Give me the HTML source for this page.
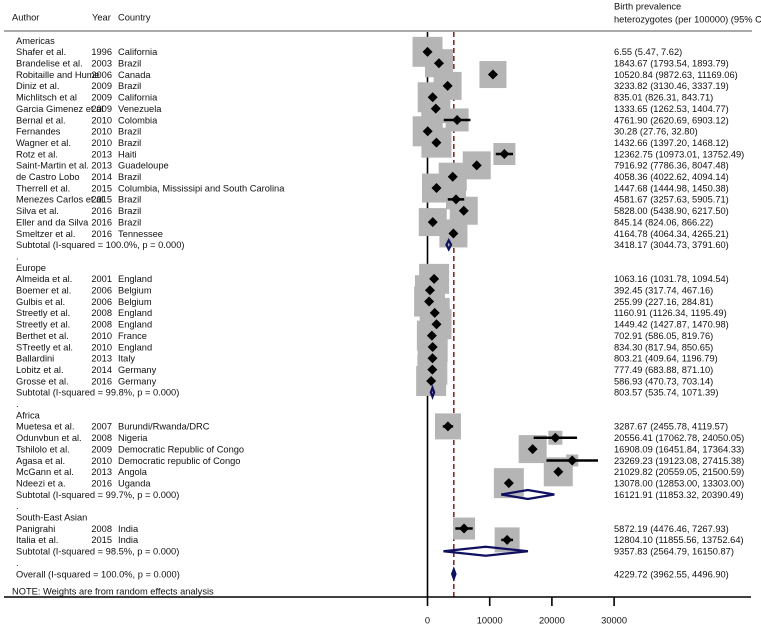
<!DOCTYPE html>
<html><head><meta charset="utf-8"><style>
body{margin:0;background:#fff;}
svg{display:block;font-family:"Liberation Sans",Arial,sans-serif;}
text{font-size:9.3px;fill:#111;}
</style></head><body>
<svg id="plot" width="761" height="627"></svg>
<script>
const labels=["Americas","Shafer et al.","Brandelise et al.","Robitaille and Hume","Diniz et al.","Michlitsch et al","Garcia Gimenez et al","Bernal et al.","Fernandes","Wagner et al.","Rotz et al.","Saint-Martin et al.","de Castro Lobo","Therrell et al.","Menezes Carlos et al","Silva et al.","Eller and da Silva","Smeltzer et al.","Subtotal  (I-squared = 100.0%, p = 0.000)",".","Europe","Almeida et al.","Boemer et al.","Gulbis et al.","Streetly et al.","Streetly et al.","Berthet et al.","STreetly et al.","Ballardini","Lobitz et al.","Grosse et al.","Subtotal  (I-squared = 99.8%, p = 0.000)",".","Africa","Muetesa et al.","Odunvbun et al.","Tshilolo et al.","Agasa et al.","McGann et al.","Ndeezi et a.","Subtotal  (I-squared = 99.7%, p = 0.000)",".","South-East Asian","Panigrahi","Italia et al.","Subtotal  (I-squared = 98.5%, p = 0.000)",".","Overall  (I-squared = 100.0%, p = 0.000)"];
const years=["","1996","2003","2006","2009","2009","2009","2010","2010","2010","2013","2013","2014","2015","2015","2016","2016","2016","","","","2001","2006","2006","2008","2008","2010","2010","2013","2014","2016","","","","2007","2008","2009","2010","2013","2016","","","","2008","2015","","",""];
const countries=["","California","Brazil","Canada","Brazil","California","Venezuela","Colombia","Brazil","Brazil","Haiti","Guadeloupe","Brazil","Columbia, Mississipi and South Carolina","Brazil","Brazil","Brazil","Tennessee","","","","England","Belgium","Belgium","England","England","France","England","Italy","Germany","Germany","","","","Burundi/Rwanda/DRC","Nigeria","Democratic Republic of Congo","Democratic republic of Congo","Angola","Uganda","","","","India","India","","",""];
const kinds=["h","s","s","s","s","s","s","s","s","s","s","s","s","s","s","s","s","s","t","d","h","s","s","s","s","s","s","s","s","s","s","t","d","h","s","s","s","s","s","s","t","d","h","s","s","t","d","o"];
const est=[null,6.55,1843.67,10520.84,3233.82,835.01,1333.65,4761.90,30.28,1432.66,12362.75,7916.92,4058.36,1447.68,4581.67,5828.00,845.14,4164.78,3418.17,null,null,1063.16,392.45,255.99,1160.91,1449.42,702.91,834.30,803.21,777.49,586.93,803.57,null,null,3287.67,20556.41,16908.09,23269.23,21029.82,13078.00,16121.91,null,null,5872.19,12804.10,9357.83,null,4229.72];
const lo=[null,5.47,1793.54,9872.63,3130.46,826.31,1262.53,2620.69,27.76,1397.20,10973.01,7786.36,4022.62,1444.98,3257.63,5438.90,824.06,4064.34,3044.73,null,null,1031.78,317.74,227.16,1126.34,1427.87,586.05,817.94,409.64,683.88,470.73,535.74,null,null,2455.78,17062.78,16451.84,19123.08,20559.05,12853.00,11853.32,null,null,4476.46,11855.56,2564.79,null,3962.55];
const hi=[null,7.62,1893.79,11169.06,3337.19,843.71,1404.77,6903.12,32.80,1468.12,13752.49,8047.48,4094.14,1450.38,5905.71,6217.50,866.22,4265.21,3791.60,null,null,1094.54,467.16,284.81,1195.49,1470.98,819.76,850.65,1196.79,871.10,703.14,1071.39,null,null,4119.57,24050.05,17364.33,27415.38,21500.59,13303.00,20390.49,null,null,7267.93,13752.64,16150.87,null,4496.90];
const weights=[0,30,28,27,28,30,29,23,30,30,22,28,28,29,20,28,28,28,0,0,0,30,30,30,30,30,30,30,28,30,30,0,0,0,26,14,28,12,29,30,0,0,0,22,25,0,0,0];
const xTicks=[0,10000,20000,30000];
const fmt=v=>v.toFixed(2);

const svg=document.getElementById('plot');
const NS="http://www.w3.org/2000/svg";
const X=v=>427.5+v*0.00622;
const Y=i=>40.5+i*11.35;
function mk(tag,attrs,parent){const e=document.createElementNS(NS,tag);for(const k in attrs)e.setAttribute(k,attrs[k]);(parent||svg).appendChild(e);return e;}
function txt(x,y,s,anchor){const t=mk('text',{x:x,y:y+3.3,'text-anchor':anchor||'start'});t.textContent=s;return t;}

let t;
t=txt(12,17,"Author");


t=txt(92,17,"Year");


t=txt(118,17,"Country");


t=txt(614,6,"Birth prevalence");


t=txt(614,19,"heterozygotes (per 100000) (95% CI)");


let l=mk('line',{x1:4,y1:31,x2:752,y2:31,stroke:'#aaa','stroke-width':2});



l=mk('line',{x1:X(0),y1:32,x2:X(0),y2:597,stroke:'#000','stroke-width':1.6});


l=mk('line',{x1:X(est[47]),y1:32,x2:X(est[47]),y2:597,stroke:'#8b2a2a','stroke-width':1.6,'stroke-dasharray':'5,3'});



for(let i=0;i<labels.length;i++){
  const y=Y(i),k=kinds[i];
  const lab=txt(16,y,labels[i]);
  
  
  if(k==='d'){lab.setAttribute('fill','#999');}
  if(years[i]){const yt=txt(112,y,years[i],'end');
    
    }
  if(countries[i]){const ct=txt(118,y,countries[i]);
    
    }
  if(est[i]!==null){const vt=txt(614,y,fmt(est[i])+" ("+fmt(lo[i])+", "+fmt(hi[i])+")");
    
    }
}
for(let i=0;i<labels.length;i++){
  if(kinds[i]!=='s')continue;
  const y=Y(i),w=weights[i];
  const b=mk('rect',{x:X(est[i])-w/2,y:y-w/2,width:w,height:w,fill:'#b5b5b5'});
  
  
}
for(let i=0;i<labels.length;i++){
  const y=Y(i),k=kinds[i];
  if(k==='s'){
    const c=mk('line',{x1:X(lo[i]),y1:y,x2:X(hi[i]),y2:y,stroke:'#000','stroke-width':2.5});
    
    
    const cx=X(est[i]);
    const p=mk('polygon',{points:`${cx-5},${y} ${cx},${y-5} ${cx+5},${y} ${cx},${y+5}`,fill:'#000'});
    
    
  } else if(k==='t'||k==='o'){
    const a=X(lo[i]),m=X(est[i]),b=X(hi[i]);
    const d=mk('polygon',{points:`${a},${y} ${m},${y-4.5} ${b},${y} ${m},${y+4.5}`,fill:k==='o'?'#1a237e':'none',stroke:'#101060','stroke-width':2.2});
    
    
  }
}
t=txt(12,591,"NOTE: Weights are from random effects analysis");


l=mk('line',{x1:4,y1:597,x2:751,y2:597,stroke:'#000','stroke-width':1.6});


for(const v of xTicks){
  const tk=mk('line',{x1:X(v),y1:597,x2:X(v),y2:606,stroke:'#000','stroke-width':1.6});
  
  
  const tl=txt(X(v),620,String(v),'middle');
  
  
}
</script>
</body></html>
